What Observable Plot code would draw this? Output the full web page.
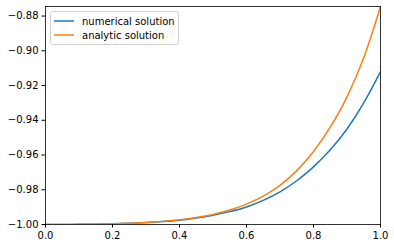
<!DOCTYPE html>
<html><head><meta charset="utf-8">
<script src="https://cdn.jsdelivr.net/npm/d3@7"></script>
<script src="https://cdn.jsdelivr.net/npm/@observablehq/plot@0.6"></script>
<style>
body{margin:0;background:#fff;}
#chart{position:relative;width:394px;height:248px;}
#chart svg{font-family:"DejaVu Sans",sans-serif;}
.legend{position:absolute;left:50px;top:11px;width:127px;height:32px;border:1px solid #d0d0d0;border-radius:3px;background:rgba(255,255,255,0.8);font:10px "DejaVu Sans",sans-serif;color:#000;box-sizing:content-box;}
.legend .row{position:absolute;left:3px;height:12px;display:flex;align-items:center;white-space:nowrap;}
.legend svg{margin-right:8px;}
</style></head><body><div id="chart"></div>
<script>
const xs = [0,0.05,0.1,0.15,0.2,0.25,0.3,0.35,0.4,0.45,0.5,0.55,0.6,0.65,0.7,0.75,0.8,0.85,0.9,0.95,1.0];
const numerical = [-1,-0.99998,-0.9999,-0.9998,-0.9996,-0.9993,-0.9989,-0.9983,-0.9975,-0.9963,-0.9947,-0.9926,-0.9899,-0.9861,-0.9812,-0.9748,-0.9668,-0.9570,-0.9450,-0.9300,-0.9120];
const analytic = [-1,-0.99998,-0.9999,-0.9998,-0.9996,-0.9993,-0.9988,-0.9982,-0.9973,-0.9960,-0.9942,-0.9917,-0.9883,-0.9837,-0.9775,-0.9690,-0.9580,-0.9440,-0.9265,-0.9040,-0.8745];
const seriesNames = ["numerical solution","analytic solution"];
const seriesColors = ["#1f77b4","#ff7f0e"];
const xTicks = [0,0.2,0.4,0.6,0.8,1.0];
const yTicks = [-1.00,-0.98,-0.96,-0.94,-0.92,-0.90,-0.88];
const xDomain = [0,1];
const yDomain = [-1.0,-0.8745];

const rows = [];
[numerical, analytic].forEach((arr,si)=>arr.forEach((v,i)=>rows.push({x:xs[i],y:v,s:seriesNames[si]})));

const plot = Plot.plot({
  width:394, height:248,
  marginLeft:45, marginRight:14, marginTop:6, marginBottom:24,
  style:{fontFamily:"DejaVu Sans, sans-serif", fontSize:"10px", color:"#000", background:"#fff"},
  x:{domain:xDomain, ticks:xTicks, tickFormat:d3.format(".1f")},
  y:{domain:yDomain, ticks:yTicks, tickFormat:d3.format(".2f")},
  color:{domain:seriesNames, range:seriesColors},
  marks:[
    Plot.line(rows,{x:"x",y:"y",z:"s",stroke:"s",strokeWidth:1.5,curve:"monotone-x",clip:true}),
    Plot.axisX({ticks:xTicks,tickFormat:d3.format(".1f"),tickSize:3.5,tickPadding:3.5,label:null,fontSize:10,stroke:"#000"}),
    Plot.axisY({ticks:yTicks,tickFormat:d3.format(".2f"),tickSize:3.5,tickPadding:3.5,label:null,fontSize:10,stroke:"#000"}),
    Plot.frame({stroke:"#000",strokeWidth:0.8})
  ]
});
const chart = document.getElementById("chart");
chart.appendChild(plot);
const leg = document.createElement("div");
leg.className = "legend";
const NS = "http://www.w3.org/2000/svg";
seriesNames.forEach((n,i)=>{
  const r = document.createElement("div");
  r.className = "row";
  r.style.top = (3 + i*14) + "px";
  const sv = document.createElementNS(NS,"svg");
  sv.setAttribute("width","20"); sv.setAttribute("height","6");
  const ln = document.createElementNS(NS,"line");
  ln.setAttribute("x1","0"); ln.setAttribute("x2","20");
  ln.setAttribute("y1","3"); ln.setAttribute("y2","3");
  ln.setAttribute("stroke",seriesColors[i]); ln.setAttribute("stroke-width","1.5");
  sv.appendChild(ln);
  r.appendChild(sv);
  r.appendChild(document.createTextNode(n));
  leg.appendChild(r);
});
chart.appendChild(leg);
</script></body></html>
